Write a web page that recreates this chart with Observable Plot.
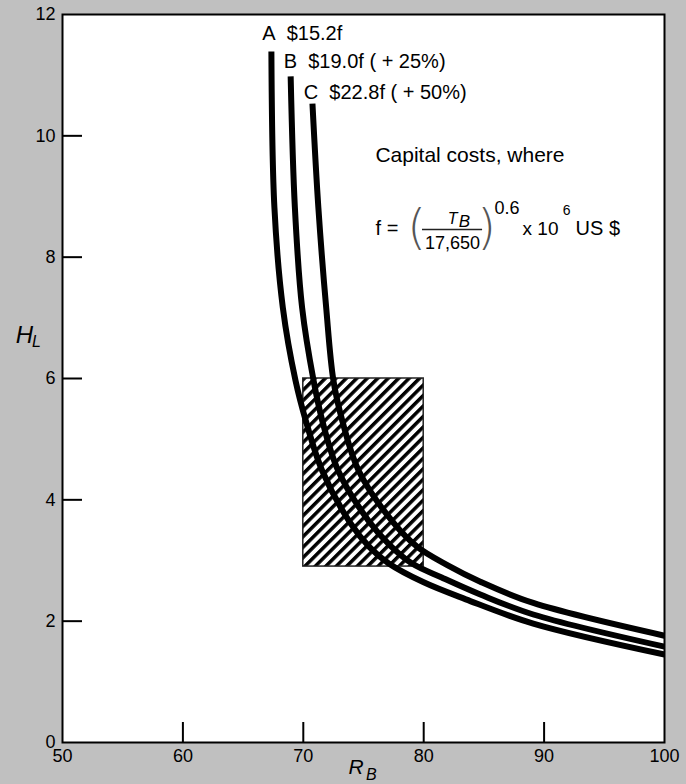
<!DOCTYPE html>
<html><head><meta charset="utf-8">
<script src="https://cdn.jsdelivr.net/npm/d3@7"></script>
<script src="https://cdn.jsdelivr.net/npm/@observablehq/plot@0.6"></script>
<style>html,body{margin:0;padding:0;background:#c0c0c0;} #chart{width:686px;height:784px;}</style>
</head><body><div id="chart"></div>
<script>
// ---- data ----
const seriesNames = ["A", "B", "C"];
const costLabels = ["$15.2f", "$19.0f ( + 25%)", "$22.8f ( + 50%)"];
const xA = [67.35, 67.6, 68.3, 69.35, 70.2, 71.57, 73.9, 75.5, 77.1, 80.0, 83.5, 89.1, 100];
const yA = [11.39, 8.82, 7.17, 5.97, 5.31, 4.48, 3.62, 3.22, 2.95, 2.64, 2.36, 1.96, 1.45];
const xB = [68.95, 69.3, 69.9, 70.85, 71.57, 72.9, 75.4, 77.2, 79.04, 81.5, 84.7, 89.1, 100];
const yB = [10.98, 8.82, 7.17, 5.97, 5.31, 4.48, 3.66, 3.25, 2.95, 2.72, 2.44, 2.11, 1.58];
const xC = [70.76, 71.25, 71.9, 72.5, 73.23, 74.6, 77.5, 79.5, 82.0, 84.7, 89.1, 100];
const yC = [10.53, 8.82, 7.17, 5.97, 5.31, 4.48, 3.62, 3.22, 2.92, 2.65, 2.30, 1.76];
const regionX = [70, 80];
const regionY = [2.9, 6];
const xTicks = [50, 60, 70, 80, 90, 100];
const yTicks = [0, 2, 4, 6, 8, 10, 12];
// annotation anchors (data units)
const labelX = [66.59, 68.38, 70.04];
const labelY = [11.68, 11.22, 10.71];
const noteText = "Capital costs, where";
const noteX = 75.99, noteY = 9.675;
const fX = 76.0, fY = 8.47;

// ---- tables ----
const curveX = [xA, xB, xC], curveY = [yA, yB, yC];
const curveRows = seriesNames.flatMap((s, i) => curveX[i].map((x, j) => ({series: s, x, y: curveY[i][j]})));
const labelRows = seriesNames.map((s, i) => ({label: `${s}\u00a0\u00a0${costLabels[i]}`, x: labelX[i], y: labelY[i]}));
const regionRows = [{x1: regionX[0], x2: regionX[1], y1: regionY[0], y2: regionY[1]}];

const font = "'Liberation Sans', Arial, Helvetica, sans-serif";
const ftxt = (s, o) => Plot.text([s], {x: fX, y: fY, fill: "black", ...o});

const plot = Plot.plot({
  width: 686, height: 784,
  marginTop: 14, marginRight: 22, marginBottom: 42, marginLeft: 62,
  x: {domain: [50, 100]},
  y: {domain: [0, 12]},
  style: {background: "#c0c0c0", fontFamily: font, fontSize: "18px", color: "black", overflow: "visible"},
  marks: [
    Plot.frame({fill: "white", stroke: null}),
    Plot.rect(regionRows, {x1: "x1", x2: "x2", y1: "y1", y2: "y2", fill: "url(#hatch)", stroke: "#222", strokeWidth: 1.5}),
    Plot.line(curveRows, {x: "x", y: "y", z: "series", stroke: "black", strokeWidth: 6, strokeLinecap: "butt", strokeLinejoin: "round", curve: "catmull-rom"}),
    Plot.ruleY(yTicks.slice(1, -1), {x1: 50, x2: 51.66, stroke: "black", strokeWidth: 2}),
    Plot.ruleX(xTicks.slice(1, -1), {y1: 0, y2: 0.33, stroke: "black", strokeWidth: 2}),
    Plot.axisX({ticks: xTicks, tickSize: 0, tickPadding: 7, fontSize: 18, label: null}),
    Plot.axisY({ticks: yTicks, tickSize: 0, tickPadding: 7, fontSize: 18, label: null}),
    Plot.frame({stroke: "black", strokeWidth: 2}),
    Plot.text(labelRows, {x: "x", y: "y", text: "label", textAnchor: "start", fontSize: 20, fill: "black"}),
    Plot.text([noteText], {x: noteX, y: noteY, textAnchor: "start", fontSize: 21, fill: "black"}),
    ftxt("f =", {textAnchor: "start", fontSize: 20}),
    ftxt("(", {dx: 41, dy: 0, fontSize: 48, fontFamily: "'DejaVu Sans'", fontWeight: 200, fill: "#555"}),
    ftxt(")", {dx: 111, dy: 0, fontSize: 48, fontFamily: "'DejaVu Sans'", fontWeight: 200, fill: "#555"}),
    ftxt("T", {dx: 77, dy: -10, fontSize: 16, fontStyle: "italic"}),
    ftxt("B", {dx: 89, dy: -7, fontSize: 17, fontStyle: "italic"}),
    Plot.ruleY([fY - 0.016], {x1: fX + 3.9, x2: fX + 8.89, stroke: "#222", strokeWidth: 1.5}),
    ftxt("17,650", {dx: 77, dy: 15, fontSize: 18}),
    ftxt("0.6", {dx: 119, dy: -20, textAnchor: "start", fontSize: 18}),
    ftxt("x 10", {dx: 147, textAnchor: "start", fontSize: 19}),
    ftxt("6", {dx: 191, dy: -18, fontSize: 14}),
    ftxt("US $", {dx: 200, textAnchor: "start", fontSize: 20}),
    Plot.text(["H"], {x: 46.84, y: 6.72, fontSize: 24, fontStyle: "italic", fill: "black"}),
    Plot.text(["L"], {x: 47.84, y: 6.61, fontSize: 16, fontStyle: "italic", fill: "black"}),
    Plot.text(["R"], {x: 74.38, y: -0.412, fontSize: 21, fontStyle: "italic", fill: "black"}),
    Plot.text(["B"], {x: 75.66, y: -0.536, fontSize: 16, fontStyle: "italic", fill: "black"})
  ]
});

d3.select(plot).insert("defs", ":first-child").html(
  `<pattern id="hatch" patternUnits="userSpaceOnUse" width="7.4" height="7.4" patternTransform="rotate(45)">` +
  `<rect width="7.4" height="7.4" fill="white"/><rect width="3.5" height="7.4" fill="black"/></pattern>`);

document.getElementById("chart").appendChild(plot);
</script>
</body></html>
